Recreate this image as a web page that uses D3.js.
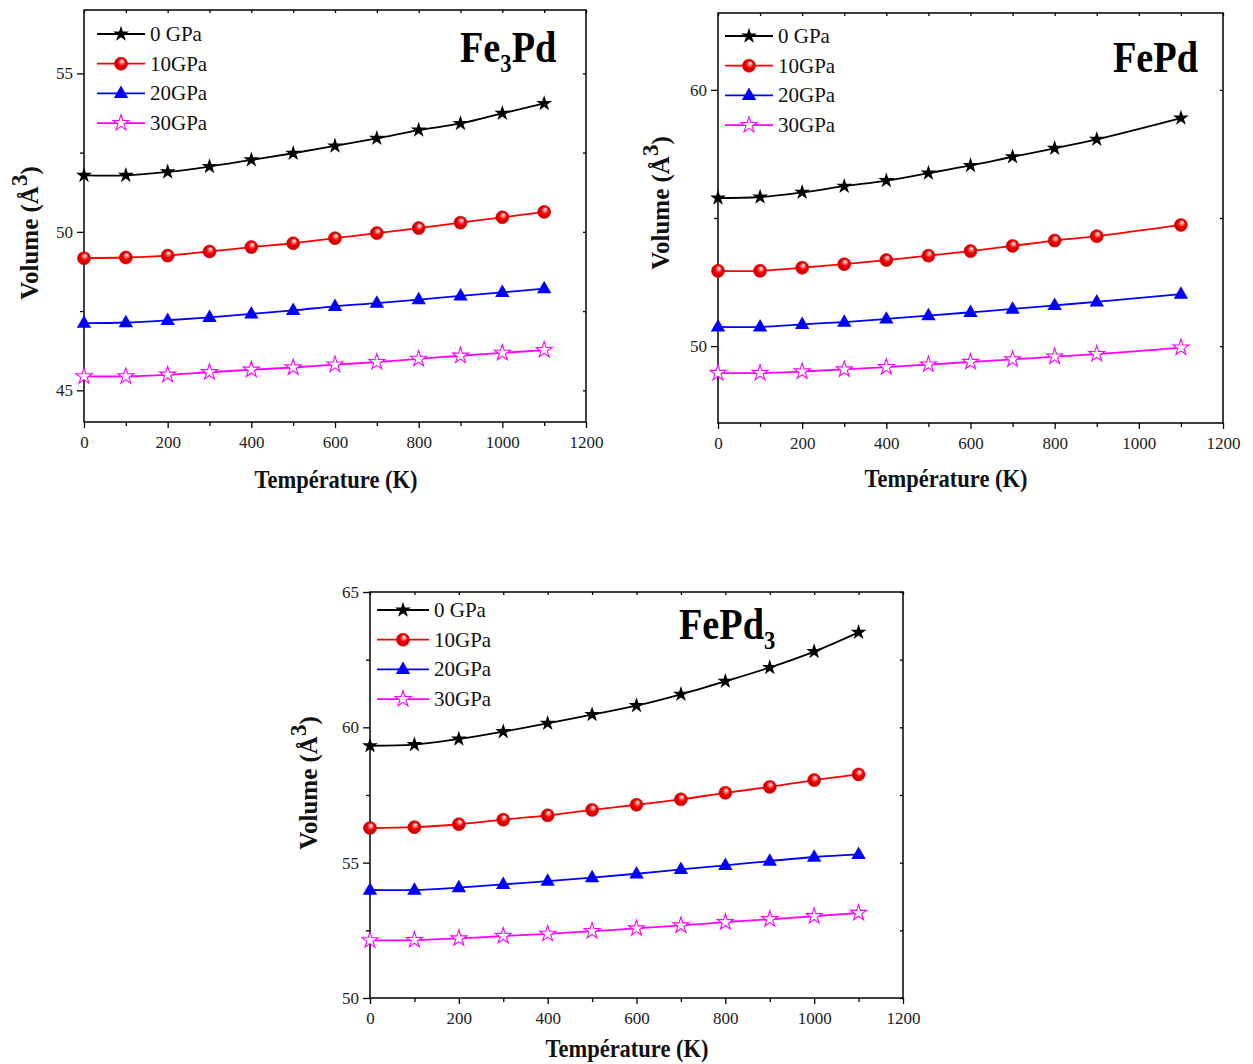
<!DOCTYPE html>
<html>
<head>
<meta charset="utf-8">
<script src="https://cdn.jsdelivr.net/npm/d3@7"></script>
<style>
  body { margin: 0; background: #fff; }
  svg { display: block; }
</style>
</head>
<body>
<svg id="chart" width="1253" height="1064"></svg>
<script>
// Temperatures (K) at which the equilibrium volume was computed
const temperatureK = [0, 100, 200, 300, 400, 500, 600, 700, 800, 900, 1000, 1100];
const fePdTemperatureK = [0, 100, 200, 300, 400, 500, 600, 700, 800, 900, 1100];
const pressureLabels = ["0 GPa", "10GPa", "20GPa", "30GPa"];
const tempTicks = [0, 200, 400, 600, 800, 1000, 1200];

// Fe3Pd cell volume (Å^3) per pressure
const fe3PdVol0 = [51.78, 51.78, 51.89, 52.06, 52.27, 52.48, 52.71, 52.95, 53.21, 53.42, 53.74, 54.05];
const fe3PdVol10 = [49.17, 49.19, 49.25, 49.38, 49.52, 49.64, 49.80, 49.96, 50.12, 50.29, 50.46, 50.63];
const fe3PdVol20 = [47.12, 47.14, 47.21, 47.30, 47.41, 47.52, 47.65, 47.75, 47.86, 47.98, 48.09, 48.21];
const fe3PdVol30 = [45.44, 45.44, 45.49, 45.57, 45.65, 45.72, 45.81, 45.89, 45.99, 46.09, 46.18, 46.27];

// FePd cell volume (Å^3) per pressure
const fePdVol0 = [55.78, 55.82, 56.00, 56.24, 56.46, 56.75, 57.05, 57.39, 57.72, 58.07, 58.90];
const fePdVol10 = [52.94, 52.94, 53.06, 53.20, 53.36, 53.53, 53.71, 53.91, 54.12, 54.29, 54.73];
const fePdVol20 = [50.75, 50.75, 50.85, 50.94, 51.06, 51.19, 51.32, 51.45, 51.59, 51.73, 52.03];
const fePdVol30 = [48.95, 48.95, 49.01, 49.09, 49.18, 49.28, 49.38, 49.48, 49.59, 49.69, 49.94];

// FePd3 cell volume (Å^3) per pressure
const fePd3Vol0 = [59.32, 59.36, 59.57, 59.84, 60.15, 60.47, 60.80, 61.22, 61.70, 62.21, 62.80, 63.51];
const fePd3Vol10 = [56.28, 56.31, 56.42, 56.59, 56.75, 56.95, 57.14, 57.34, 57.58, 57.80, 58.05, 58.26];
const fePd3Vol20 = [53.99, 53.99, 54.08, 54.20, 54.32, 54.45, 54.59, 54.75, 54.90, 55.06, 55.21, 55.31];
const fePd3Vol30 = [52.13, 52.14, 52.20, 52.29, 52.37, 52.47, 52.57, 52.68, 52.80, 52.91, 53.02, 53.14];

// Y tick values per panel
const fe3PdMajor = [45, 50, 55], fe3PdMinor = [47.5, 52.5];
const fePdMajor = [50, 60], fePdMinor = [55];
const fePd3Major = [50, 55, 60, 65], fePd3Minor = [52.5, 57.5, 62.5];

// Look of each pressure series
const seriesStyle = [
  { color: "#000000", marker: "star" },
  { color: "#ff0000", marker: "ball" },
  { color: "#0000ff", marker: "triangle" },
  { color: "#ff00ff", marker: "openStar" }
];

// Panel layout
const panels = [
  {
    name: ["Fe", "3", "Pd"], temps: temperatureK,
    series: [fe3PdVol0, fe3PdVol10, fe3PdVol20, fe3PdVol30],
    yDomain: [44, 57], yMajor: fe3PdMajor, yMinor: fe3PdMinor,
    box: { x0: 84, x1: 586, y0: 10, y1: 422 },
    legend: { lx0: 97, lx1: 145, tx: 150, y0: 34, dy: 29.7 },
    title: { x: 460, y: 62 },
    yTitle: { x: 38, y: 233 }, xTitle: { x: 336, y: 488 }
  },
  {
    name: ["FePd"], temps: fePdTemperatureK,
    series: [fePdVol0, fePdVol10, fePdVol20, fePdVol30],
    yDomain: [47, 63], yMajor: fePdMajor, yMinor: fePdMinor,
    box: { x0: 718, x1: 1223, y0: 13, y1: 423 },
    legend: { lx0: 725, lx1: 773, tx: 778, y0: 36, dy: 29.7 },
    title: { x: 1113, y: 72 },
    yTitle: { x: 669, y: 203 }, xTitle: { x: 946, y: 487 }
  },
  {
    name: ["FePd", "3", ""], temps: temperatureK,
    series: [fePd3Vol0, fePd3Vol10, fePd3Vol20, fePd3Vol30],
    yDomain: [50, 65], yMajor: fePd3Major, yMinor: fePd3Minor,
    box: { x0: 370, x1: 903, y0: 592, y1: 998 },
    legend: { lx0: 377, lx1: 429, tx: 434, y0: 610, dy: 29.7 },
    title: { x: 679, y: 639 },
    yTitle: { x: 317, y: 783 }, xTitle: { x: 627, y: 1057 }
  }
];

const serif = "'Liberation Serif', 'Times New Roman', serif";
const condense = 0.87;
const svg = d3.select("#chart");

// Glossy red ball gradient
const defs = svg.append("defs");
const grad = defs.append("radialGradient")
  .attr("id", "redBall").attr("cx", "50%").attr("cy", "50%").attr("r", "55%")
  .attr("fx", "60%").attr("fy", "28%");
grad.append("stop").attr("offset", "0%").attr("stop-color", "#ffffff");
grad.append("stop").attr("offset", "20%").attr("stop-color", "#ff9a9a");
grad.append("stop").attr("offset", "50%").attr("stop-color", "#f40000");
grad.append("stop").attr("offset", "100%").attr("stop-color", "#c00000");

const starPath = d3.symbol(d3.symbolStar, 78)();
const openStarPath = d3.symbol(d3.symbolStar, 80)();
const triPath = d3.symbol(d3.symbolTriangle, 90)();

function drawMarker(g, style, cx, cy) {
  if (style.marker === "star") {
    g.append("path").attr("d", starPath).attr("transform", `translate(${cx},${cy})`)
      .attr("fill", "#000");
  } else if (style.marker === "openStar") {
    g.append("path").attr("d", openStarPath).attr("transform", `translate(${cx},${cy})`)
      .attr("fill", "#fff").attr("stroke", style.color).attr("stroke-width", 1.1);
  } else if (style.marker === "triangle") {
    g.append("path").attr("d", triPath).attr("transform", `translate(${cx},${cy + 0.5})`)
      .attr("fill", style.color);
  } else {
    g.append("circle").attr("cx", cx).attr("cy", cy).attr("r", 6.5)
      .attr("fill", "url(#redBall)").attr("stroke", "#d00000").attr("stroke-width", 0.6);
  }
}

panels.forEach(p => {
  const b = p.box;
  const x = d3.scaleLinear().domain([0, 1200]).range([b.x0, b.x1]);
  const y = d3.scaleLinear().domain(p.yDomain).range([b.y1, b.y0]);
  const g = svg.append("g");

  // Minor and major ticks, outward on bottom/left, short inward on top/right
  const allX = d3.range(0, 1201, 100);
  const minorX = allX.filter(v => v % 200 !== 0);
  const styleAxis = sel => {
    sel.select(".domain").remove();
    sel.selectAll("line").attr("stroke", "#000").attr("stroke-width", 1.3);
    sel.selectAll("text").attr("font-family", serif).attr("font-size", 17).attr("fill", "#222");
  };
  g.append("g").attr("transform", `translate(0,${b.y1})`)
    .call(d3.axisBottom(x).tickValues(tempTicks).tickSize(6).tickPadding(8).tickFormat(d3.format("d")))
    .call(styleAxis);
  g.append("g").attr("transform", `translate(0,${b.y1})`)
    .call(d3.axisBottom(x).tickValues(minorX).tickSize(4).tickFormat(""))
    .call(styleAxis);
  g.append("g").attr("transform", `translate(${b.x0},0)`)
    .call(d3.axisLeft(y).tickValues(p.yMajor).tickSize(7).tickPadding(4).tickFormat(d3.format("d")))
    .call(styleAxis);
  g.append("g").attr("transform", `translate(${b.x0},0)`)
    .call(d3.axisLeft(y).tickValues(p.yMinor).tickSize(4).tickFormat(""))
    .call(styleAxis);
  g.append("g").attr("transform", `translate(0,${b.y0})`)
    .call(d3.axisTop(x).tickValues(allX).tickSize(-3).tickFormat(""))
    .call(styleAxis);
  g.append("g").attr("transform", `translate(${b.x1},0)`)
    .call(d3.axisRight(y).tickValues(p.yMajor.concat(p.yMinor)).tickSize(-3).tickFormat(""))
    .call(styleAxis);

  // Frame
  g.append("rect").attr("x", b.x0).attr("y", b.y0)
    .attr("width", b.x1 - b.x0).attr("height", b.y1 - b.y0)
    .attr("fill", "none").attr("stroke", "#000").attr("stroke-width", 1.5);

  // Curves and markers
  const line = d3.line().x(d => x(d[0])).y(d => y(d[1])).curve(d3.curveCatmullRom.alpha(0.5));
  p.series.forEach((vals, i) => {
    const st = seriesStyle[i];
    const pts = p.temps.map((t, k) => [t, vals[k]]);
    g.append("path").attr("d", line(pts)).attr("fill", "none")
      .attr("stroke", st.color).attr("stroke-width", 1.8);
    const mg = g.append("g");
    pts.forEach(d => drawMarker(mg, st, x(d[0]), y(d[1])));
  });

  // Legend
  const L = p.legend;
  pressureLabels.forEach((lab, i) => {
    const st = seriesStyle[i];
    const ly = L.y0 + i * L.dy;
    g.append("line").attr("x1", L.lx0).attr("x2", L.lx1).attr("y1", ly).attr("y2", ly)
      .attr("stroke", st.color).attr("stroke-width", 1.8);
    drawMarker(g, st, (L.lx0 + L.lx1) / 2, ly);
    g.append("text").attr("x", L.tx).attr("y", ly + 7)
      .attr("font-family", serif).attr("font-size", 21).attr("fill", "#111").text(lab);
  });

  // Compound name
  const t = g.append("text")
    .attr("transform", `translate(${p.title.x},${p.title.y}) scale(${condense},1)`)
    .attr("font-family", serif).attr("font-weight", "bold").attr("font-size", 44).attr("fill", "#000");
  t.append("tspan").text(p.name[0]);
  if (p.name.length > 1) {
    t.append("tspan").attr("font-size", 26).attr("dy", 10).text(p.name[1]);
    if (p.name[2]) t.append("tspan").attr("dy", -10).text(p.name[2]);
  }

  // Axis titles
  g.append("text")
    .attr("transform", `translate(${p.xTitle.x},${p.xTitle.y}) scale(0.9,1)`)
    .attr("text-anchor", "middle").attr("font-family", serif).attr("font-weight", "bold")
    .attr("font-size", 25).attr("fill", "#111").text("Température (K)");

  const yt = g.append("text")
    .attr("transform", `translate(${p.yTitle.x},${p.yTitle.y}) rotate(-90)`)
    .attr("text-anchor", "middle").attr("font-family", serif).attr("font-weight", "bold")
    .attr("font-size", 25).attr("fill", "#111");
  yt.append("tspan").text("Volume (Å");
  yt.append("tspan").attr("font-size", 23).attr("dy", -11).text("3");
  yt.append("tspan").attr("dy", 11).text(")");
});
</script>
</body>
</html>
